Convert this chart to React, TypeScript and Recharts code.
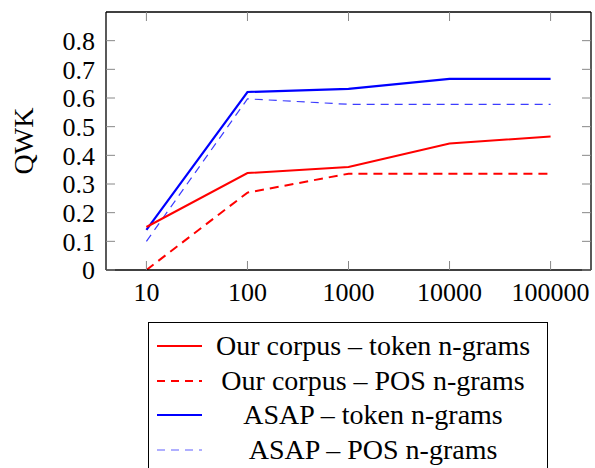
import React from 'react';
import { LineChart, Line, XAxis, YAxis } from 'recharts';

const xTicks = [10, 100, 1000, 10000, 100000];
const yTicks = [0, 0.1, 0.2, 0.3, 0.4, 0.5, 0.6, 0.7, 0.8];
const ourToken = [0.15, 0.338, 0.359, 0.441, 0.466];
const ourPos = [0, 0.27, 0.336, 0.336, 0.336];
const asapToken = [0.14, 0.621, 0.632, 0.667, 0.667];
const asapPos = [0.1, 0.597, 0.578, 0.578, 0.578];

const seriesNames = [
  'Our corpus – token n-grams',
  'Our corpus – POS n-grams',
  'ASAP – token n-grams',
  'ASAP – POS n-grams',
];

const data = xTicks.map((x, i) => ({
  x,
  ourToken: ourToken[i],
  ourPos: ourPos[i],
  asapToken: asapToken[i],
  asapPos: asapPos[i],
}));

const FONT =
  "'Liberation Serif', 'DejaVu Serif', 'Noto Serif', Tinos, 'Nimbus Roman', 'Nimbus Roman No9 L', FreeSerif, 'Times New Roman', Times, serif";
const xDomain = [Math.pow(10, 0.6), Math.pow(10, 5.4)];

const legendStyles = [
  { color: '#ff0000', dash: undefined, width: 2 },
  { color: '#ff0000', dash: '8 6', width: 2 },
  { color: '#0000ff', dash: undefined, width: 2.2 },
  { color: '#6060ff', dash: '8 6', width: 1.2 },
];

const NoLabel = () => <g />;

const ChartLegend = () => (
  <div
    style={{
      position: 'absolute',
      left: 148,
      top: 322,
      width: 400,
      height: 170,
      border: '1px solid #000',
      background: '#fff',
      boxSizing: 'border-box',
      paddingTop: 6,
      fontFamily: FONT,
      fontSize: 28,
    }}
  >
    {seriesNames.map((name, i) => (
      <div key={name} style={{ display: 'flex', alignItems: 'center', height: 34.5 }}>
        <svg width={62} height={20} style={{ flex: 'none' }}>
          <line
            x1={8}
            y1={10}
            x2={53}
            y2={10}
            stroke={legendStyles[i].color}
            strokeWidth={legendStyles[i].width}
            strokeDasharray={legendStyles[i].dash}
          />
        </svg>
        <div style={{ width: 324, textAlign: 'center', whiteSpace: 'nowrap' }}>{name}</div>
      </div>
    ))}
  </div>
);

const App: React.FC = () => {
  const tickFont = { fontFamily: FONT, fontSize: 26, fill: '#000' };
  return (
    <div style={{ position: 'absolute', left: 0, top: 0, width: 595, height: 468, overflow: 'hidden', background: '#fff', fontFamily: FONT }}>
      <LineChart
        width={595}
        height={468}
        data={data}
        margin={{ top: 12, right: 4, bottom: 168, left: 46 }}
        style={{ fontFamily: FONT }}
      >
        <XAxis
          dataKey="x"
          type="number"
          scale="log"
          domain={xDomain}
          allowDataOverflow
          ticks={xTicks}
          tickLine={false}
          tickSize={0}
          tickMargin={13}
          height={30}
          axisLine={{ stroke: '#000', strokeWidth: 1.3 }}
          tick={tickFont}
          interval={0}
        />
        <XAxis
          xAxisId="bt"
          dataKey="x"
          type="number"
          scale="log"
          domain={xDomain}
          allowDataOverflow
          ticks={xTicks}
          mirror
          axisLine={false}
          tick={NoLabel}
          tickSize={9}
          tickLine={{ stroke: '#888' }}
          interval={0}
        />
        <XAxis
          xAxisId="top"
          orientation="top"
          dataKey="x"
          type="number"
          scale="log"
          domain={xDomain}
          allowDataOverflow
          ticks={xTicks}
          mirror
          axisLine={{ stroke: '#000', strokeWidth: 1.3 }}
          tick={NoLabel}
          tickSize={9}
          tickLine={{ stroke: '#888' }}
          interval={0}
        />
        <YAxis
          type="number"
          domain={[0, 0.9]}
          allowDataOverflow
          ticks={yTicks}
          width={60}
          tickLine={false}
          tickSize={0}
          tickMargin={11}
          axisLine={{ stroke: '#000', strokeWidth: 1.3 }}
          tick={tickFont}
          tickFormatter={(v: number) => (v === 0 ? '0' : String(v))}
          interval={0}
          label={{
            content: () => (
              <text
                x={33}
                y={141}
                transform="rotate(-90, 33, 141)"
                textAnchor="middle"
                fontFamily={FONT}
                fontSize={28}
                fill="#000"
              >
                QWK
              </text>
            ),
          }}
        />
        <YAxis
          yAxisId="lt"
          type="number"
          domain={[0, 0.9]}
          allowDataOverflow
          ticks={yTicks}
          mirror
          axisLine={false}
          tick={NoLabel}
          tickSize={9}
          tickLine={{ stroke: '#888' }}
          interval={0}
        />
        <YAxis
          yAxisId="right"
          orientation="right"
          type="number"
          domain={[0, 0.9]}
          allowDataOverflow
          ticks={yTicks}
          mirror
          axisLine={{ stroke: '#000', strokeWidth: 1.3 }}
          tick={NoLabel}
          tickSize={9}
          tickLine={{ stroke: '#888' }}
          interval={0}
        />
        <Line dataKey="asapPos" stroke="#3c3cff" strokeWidth={1.2} strokeDasharray="8 6" dot={false} isAnimationActive={false} />
        <Line dataKey="asapToken" stroke="#0000ff" strokeWidth={2.2} dot={false} isAnimationActive={false} />
        <Line dataKey="ourPos" stroke="#ff0000" strokeWidth={2} strokeDasharray="9 6" dot={false} isAnimationActive={false} />
        <Line dataKey="ourToken" stroke="#ff0000" strokeWidth={2} dot={false} isAnimationActive={false} />
      </LineChart>
      <ChartLegend />
    </div>
  );
};

export default App;
